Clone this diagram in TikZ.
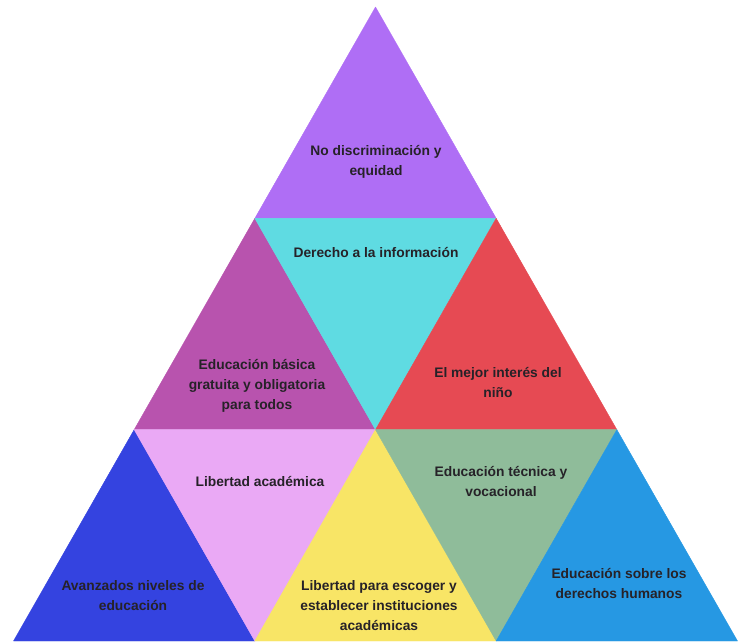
\documentclass[tikz,border=0pt]{standalone}
\usepackage{fontspec}
\setmainfont{Liberation Sans}
\definecolor{lila}{HTML}{AF6EF5}
\definecolor{magenta1}{HTML}{B853AE}
\definecolor{cian}{HTML}{5FDBE2}
\definecolor{rojo}{HTML}{E64A53}
\definecolor{azul1}{HTML}{3443E0}
\definecolor{rosa}{HTML}{EAA9F5}
\definecolor{amarillo}{HTML}{F8E566}
\definecolor{verde}{HTML}{8FBC9A}
\definecolor{azul2}{HTML}{2698E3}
\definecolor{texto}{HTML}{262228}
\begin{document}
\begin{tikzpicture}[
        x=1pt, y=1pt,
        tri/.style={line width=0.4pt, line join=round},
        label/.style={font=\bfseries\fontsize{13.8}{20}\selectfont, text=texto, align=center}
    ]
    \useasboundingbox (0, 0) rectangle (741, 641);

    % Ecken
    \coordinate (a0) at (375.5, 634);
    \coordinate (b0) at (254.83, 422.67);
    \coordinate (b1) at (496.17, 422.67);
    \coordinate (c0) at (134.17, 211.33);
    \coordinate (c1) at (375.5, 211.33);
    \coordinate (c2) at (616.83, 211.33);
    \coordinate (d0) at (13.5, 0);
    \coordinate (d1) at (254.83, 0);
    \coordinate (d2) at (496.17, 0);
    \coordinate (d3) at (737.5, 0);

    % Reihe 1
    \filldraw[tri, fill=lila, draw=lila] (a0) -- (b0) -- (b1) -- cycle;

    % Reihe 2
    \filldraw[tri, fill=magenta1, draw=magenta1] (b0) -- (c0) -- (c1) -- cycle;
    \filldraw[tri, fill=cian, draw=cian] (b0) -- (b1) -- (c1) -- cycle;
    \filldraw[tri, fill=rojo, draw=rojo] (b1) -- (c1) -- (c2) -- cycle;

    % Reihe 3
    \filldraw[tri, fill=azul1, draw=azul1] (c0) -- (d0) -- (d1) -- cycle;
    \filldraw[tri, fill=rosa, draw=rosa] (c0) -- (c1) -- (d1) -- cycle;
    \filldraw[tri, fill=amarillo, draw=amarillo] (c1) -- (d1) -- (d2) -- cycle;
    \filldraw[tri, fill=verde, draw=verde] (c1) -- (c2) -- (d2) -- cycle;
    \filldraw[tri, fill=azul2, draw=azul2] (c2) -- (d2) -- (d3) -- cycle;

    % Texte
    \node[label] (equidad) at (376, 479) {No discriminación y\\equidad};
    \node[label] (info) at (376, 388) {Derecho a la información};
    \node[label] (basica) at (257, 255) {Educación básica\\gratuita y obligatoria\\para todos};
    \node[label] (nino) at (498, 258) {El mejor interés del\\niño};
    \node[label] (libertad) at (260, 159) {Libertad académica};
    \node[label] (tecnica) at (501, 159) {Educación técnica y\\vocacional};
    \node[label] (niveles) at (133, 45) {Avanzados niveles de\\educación};
    \node[label] (escoger) at (379, 35) {Libertad para escoger y\\establecer instituciones\\académicas};
    \node[label] (derechos) at (619, 57) {Educación sobre los\\derechos humanos};
\end{tikzpicture}
\end{document}
